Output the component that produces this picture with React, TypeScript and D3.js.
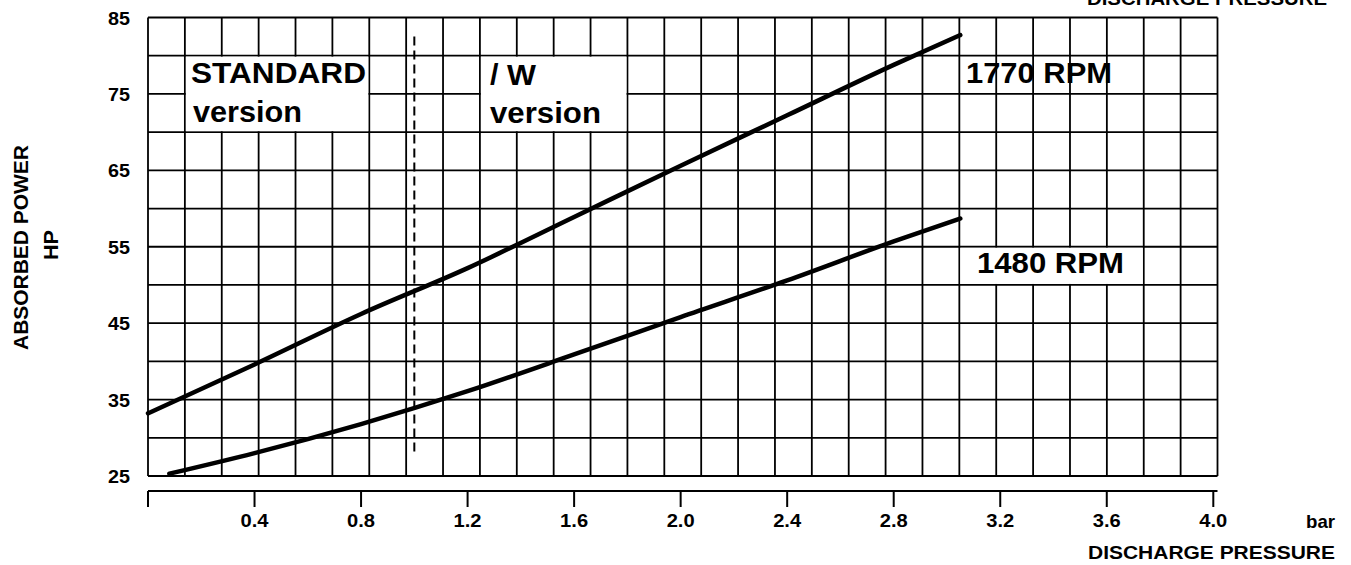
import React from "react";
import * as d3 from "d3";

// discharge pressure (bar) / absorbed power (HP)
const pressure1770 = [0, 0.4, 0.8, 1.2, 1.6, 2.0, 2.4, 2.8, 3.05];
const power1770 = [33.2, 39.6, 46.2, 52.2, 58.9, 65.6, 72.2, 78.8, 82.7];

const pressure1480 = [0.08, 0.4, 0.8, 1.2, 1.6, 2.0, 2.4, 2.8, 3.05];
const power1480 = [25.3, 28.0, 31.8, 36.1, 40.9, 45.8, 50.6, 55.7, 58.7];

const pressureTicks = [0, 0.4, 0.8, 1.2, 1.6, 2.0, 2.4, 2.8, 3.2, 3.6, 4.0];
const powerTicks = [25, 35, 45, 55, 65, 75, 85];

// border between the two versions
const versionLimit = 1.0;
const versionLimitPower = [27.6, 82.5];

const curveLabels = ["1770 RPM", "1480 RPM"];
const versionLabels = [
  ["STANDARD", "version"],
  ["/ W", "version"],
];

const W = 1351;
const H = 565;
const frame = { left: 148, right: 1217.5, top: 17.5, bottom: 476 };
const gridCols = 29;
const gridRows = 12;
const FONT = "'Liberation Sans', Arial, Helvetica, sans-serif";

const App = () => {
  const x = d3.scaleLinear().domain([0, 4]).range([frame.left, 1213.3]);
  const y = d3.scaleLinear().domain([25, 85]).range([frame.bottom, frame.top]);

  // the grid is not tied to the pressure ticks, just evenly split
  const gx = d3.scaleLinear().domain([0, gridCols]).range([frame.left, frame.right]);
  const gy = d3.scaleLinear().domain([0, gridRows]).range([frame.top, frame.bottom]);

  const line = d3
    .line<[number, number]>()
    .x((d) => x(d[0]))
    .y((d) => y(d[1]))
    .curve(d3.curveMonotoneX);

  const data1770 = pressure1770.map((p, i) => [p, power1770[i]] as [number, number]);
  const data1480 = pressure1480.map((p, i) => [p, power1480[i]] as [number, number]);

  const axisY = 491;
  const fmt = d3.format(".1f");

  // white boxes behind the labels, given in grid cells [col0, col1, row0, row1]
  const boxes = [
    [1, 6, 1, 3],
    [9, 13, 1, 3],
    [22, 27, 6, 7],
  ];

  const stretch = "spacingAndGlyphs";

  return (
    <svg
      width={W}
      height={H}
      style={{ position: "absolute", left: 0, top: 0, background: "#fff" }}
      fontFamily={FONT}
      fontWeight="bold"
    >
      {/* grid */}
      <g stroke="#000" strokeWidth={1.8}>
        {d3.range(gridCols + 1).map((i) => (
          <line key={"c" + i} x1={gx(i)} x2={gx(i)} y1={frame.top} y2={frame.bottom} />
        ))}
        {d3.range(gridRows + 1).map((i) => (
          <line key={"r" + i} x1={frame.left} x2={frame.right} y1={gy(i)} y2={gy(i)} />
        ))}
      </g>

      {/* label boxes */}
      {boxes.map((b, i) => (
        <rect
          key={i}
          x={gx(b[0]) + 1}
          y={gy(b[2]) + 1}
          width={gx(b[1]) - gx(b[0]) - 2}
          height={gy(b[3]) - gy(b[2]) - 2}
          fill="#fff"
        />
      ))}

      {/* version border */}
      <line
        x1={x(versionLimit)}
        x2={x(versionLimit)}
        y1={y(versionLimitPower[1])}
        y2={y(versionLimitPower[0])}
        stroke="#000"
        strokeWidth={2}
        strokeDasharray="9,5"
      />

      {/* curves */}
      <g fill="none" stroke="#000" strokeWidth={4.5} strokeLinecap="round">
        <path d={line(data1770) || ""} />
        <path d={line(data1480) || ""} />
      </g>

      {/* version labels */}
      <g fontSize={29} fill="#000">
        <text x={191} y={83} textLength={175} lengthAdjust={stretch}>
          {versionLabels[0][0]}
        </text>
        <text x={193} y={122} textLength={109} lengthAdjust={stretch}>
          {versionLabels[0][1]}
        </text>
        <text x={490} y={85} textLength={46} lengthAdjust={stretch}>
          {versionLabels[1][0]}
        </text>
        <text x={490} y={123} textLength={111} lengthAdjust={stretch}>
          {versionLabels[1][1]}
        </text>
      </g>

      {/* curve labels */}
      <g fontSize={29} fill="#000">
        <text x={966} y={83} textLength={146} lengthAdjust={stretch}>
          {curveLabels[0]}
        </text>
        <text x={977} y={273} textLength={147} lengthAdjust={stretch}>
          {curveLabels[1]}
        </text>
      </g>

      {/* y tick labels */}
      <g fontSize={19} textAnchor="end" fill="#000">
        {powerTicks.map((t) => (
          <text key={t} x={130} y={y(t) + 7} textLength={22} lengthAdjust={stretch}>
            {t}
          </text>
        ))}
      </g>

      {/* x axis */}
      <g stroke="#000" strokeWidth={2}>
        <line x1={frame.left} x2={frame.right} y1={axisY} y2={axisY} />
        {pressureTicks.map((t) => (
          <line key={t} x1={x(t)} x2={x(t)} y1={axisY} y2={axisY + 16} />
        ))}
      </g>
      <g fontSize={19} textAnchor="middle" fill="#000">
        {pressureTicks
          .filter((t) => t > 0)
          .map((t) => (
            <text key={t} x={x(t)} y={527} textLength={28} lengthAdjust={stretch}>
              {fmt(t)}
            </text>
          ))}
      </g>

      {/* axis titles */}
      <text x={1335} y={528} fontSize={19} textAnchor="end" textLength={29} lengthAdjust={stretch}>
        bar
      </text>
      <text x={1335} y={559} fontSize={18} textAnchor="end" textLength={247} lengthAdjust={stretch}>
        DISCHARGE PRESSURE
      </text>
      <text x={1327} y={5} fontSize={18} textAnchor="end" textLength={240} lengthAdjust={stretch}>
        DISCHARGE PRESSURE
      </text>
      <text
        transform="translate(28,247.5) rotate(-90)"
        fontSize={20}
        textAnchor="middle"
        textLength={205}
        lengthAdjust={stretch}
      >
        ABSORBED POWER
      </text>
      <text
        transform="translate(58,245) rotate(-90)"
        fontSize={20}
        textAnchor="middle"
        textLength={30}
        lengthAdjust={stretch}
      >
        HP
      </text>
    </svg>
  );
};

export default App;
